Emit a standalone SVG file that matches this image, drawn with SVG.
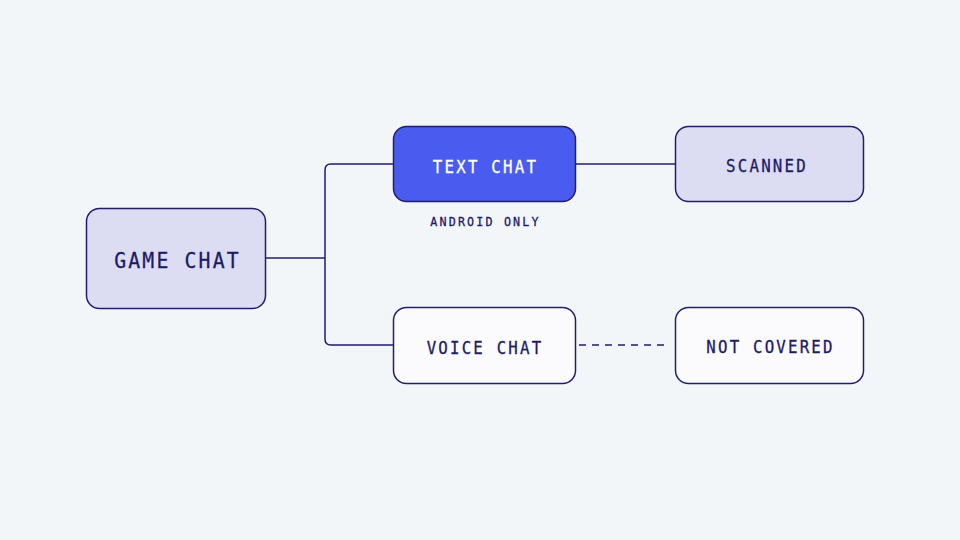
<svg xmlns="http://www.w3.org/2000/svg" width="960" height="540" viewBox="0 0 960 540">
<style>
.box{stroke:#231d6e;stroke-width:1.5}
.light{fill:#dcdcf2}
.white{fill:#fbfbfd}
.blue{fill:#4a5cf0}
.t{font-family:"DejaVu Sans Mono","Liberation Mono",monospace;text-anchor:middle;fill:#1d1a66;stroke:#1d1a66;stroke-width:0.3}
.w{fill:#ffffff;stroke:#ffffff}
.conn{fill:none;stroke:#231d6e;stroke-width:1.5}
</style>
<rect width="960" height="540" fill="#f3f6f9"/>
<g id="connectors">
<path class="conn" d="M265 258 H325"/>
<path class="conn" d="M393 164 H331 Q325 164 325 170 V339 Q325 345 331 345 H393"/>
<path class="conn" d="M576 164 H675"/>
<path class="conn" d="M579 345 H669" stroke-dasharray="7 6"/>
</g>
<g id="game-chat">
<rect class="box light" x="86.5" y="208.5" width="179" height="100" rx="13"/>
<text class="t" transform="translate(177.5 267.5) scale(0.9 1)" font-size="22" letter-spacing="2.4">GAME CHAT</text>
</g>
<g id="text-chat">
<rect class="box blue" x="393.5" y="126.5" width="182" height="75" rx="13"/>
<text class="t w" transform="translate(485.5 172.5) scale(0.9 1)" font-size="17.5" letter-spacing="2.5">TEXT CHAT</text>
<text class="t" transform="translate(485.5 226) scale(0.9 1)" font-size="13" letter-spacing="2.4">ANDROID ONLY</text>
</g>
<g id="scanned">
<rect class="box light" x="675.5" y="126.5" width="188" height="75" rx="13"/>
<text class="t" transform="translate(767 172) scale(0.9 1)" font-size="17.5" letter-spacing="2.5">SCANNED</text>
</g>
<g id="voice-chat">
<rect class="box white" x="393.5" y="307.5" width="182" height="76" rx="13"/>
<text class="t" transform="translate(485 354) scale(0.9 1)" font-size="17.5" letter-spacing="2.45">VOICE CHAT</text>
</g>
<g id="not-covered">
<rect class="box white" x="675.5" y="307.5" width="188" height="76" rx="13"/>
<text class="t" transform="translate(770.5 353) scale(0.9 1)" font-size="17.5" letter-spacing="2.45">NOT COVERED</text>
</g>
</svg>
